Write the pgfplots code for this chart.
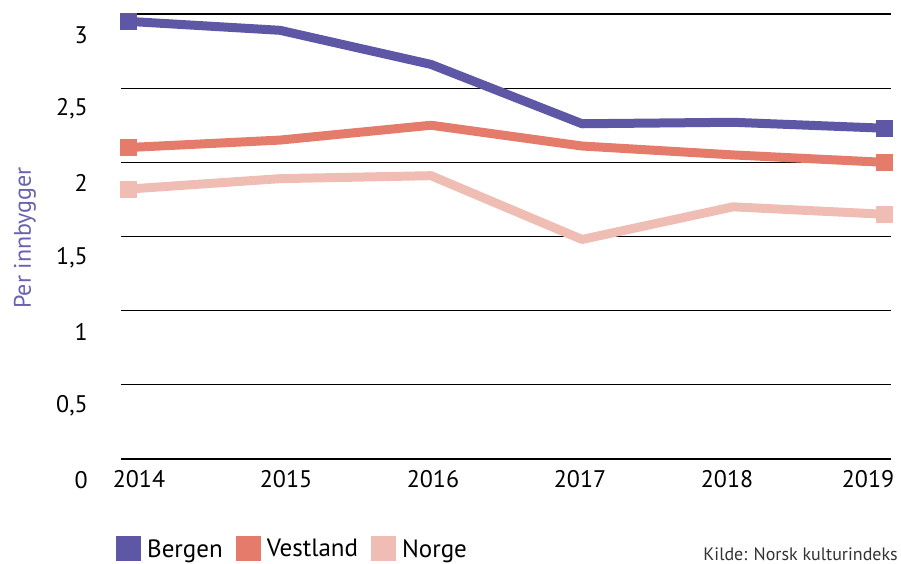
\documentclass[border=0pt]{standalone}
\usepackage{pgfplots}
\pgfplotsset{compat=1.18}
\usepackage{fontspec}
\setmainfont{PT Sans}
\definecolor{cBergen}{HTML}{5E57A5}
\definecolor{cVest}{HTML}{E47B6B}
\definecolor{cNorge}{HTML}{F0BDB4}
\definecolor{cLabel}{HTML}{6A62B0}
\begin{document}
\begin{tikzpicture}
\begin{axis}[
  scale only axis,
  width=770pt, height=445pt,
  xmin=2013.947, xmax=2019.046,
  ymin=0, ymax=3,
  clip=false,
  axis line style={draw=none},
  tick style={draw=none},
  ymajorgrids,
  major grid style={black, line width=1.1pt},
  ytick={0,0.5,1,1.5,2,2.5,3},
  yticklabels={0,{0,5},1,{1,5},2,{2,5},3},
  yticklabel style={anchor=east, inner sep=0pt, xshift=-33pt, yshift=-21pt, font=\fontsize{24}{28}\selectfont},
  xtick={2014.066,2015.04,2016.013,2016.987,2017.96,2018.894},
  xticklabels={2014,2015,2016,2017,2018,2019},
  xticklabel style={anchor=north, inner sep=0pt, yshift=-11pt, font=\fontsize{24}{28}\selectfont},
  ylabel={Per innbygger},
  ylabel style={at={(axis description cs:-0.1247,0.497)}, anchor=center, color=cLabel, font=\fontsize{24}{28}\selectfont},
  legend columns=3,
  legend style={at={(axis description cs:-0.0065,-0.2022)}, anchor=west, draw=none, fill=none, inner sep=0pt,
    nodes={inner sep=0pt},
    font=\fontsize{25}{29}\selectfont,
    /tikz/every odd column/.append style={column sep=6pt},
    /tikz/every even column/.append style={column sep=13pt}},
  legend image code/.code={\path[#1, draw=none, fill] (0pt,-12.5pt) rectangle (25pt,12.5pt);},
  every axis plot/.append style={line width=9pt, line join=round, mark=square*, mark indices={1,6}, mark size=8pt},
]
\addplot[color=cBergen, mark options={line width=0pt, fill=cBergen}] coordinates {(2014,2.95) (2015,2.89) (2016,2.66) (2017,2.26) (2018,2.27) (2019,2.23)};
\addlegendentry{Bergen}
\addplot[color=cVest, mark options={line width=0pt, fill=cVest}] coordinates {(2014,2.10) (2015,2.15) (2016,2.25) (2017,2.11) (2018,2.05) (2019,2.00)};
\addlegendentry{Vestland}
\addplot[color=cNorge, mark options={line width=0pt, fill=cNorge}] coordinates {(2014,1.82) (2015,1.89) (2016,1.91) (2017,1.48) (2018,1.70) (2019,1.65)};
\addlegendentry{Norge}
\node[anchor=base east, inner sep=0pt, font=\fontsize{18}{21}\selectfont, color=black!80] at (axis description cs:1.0091,-0.2270) {Kilde: Norsk kulturindeks};
\path (axis description cs:-0.15714,-0.23596) rectangle (axis description cs:1.01299,1.03146);
\end{axis}
\end{tikzpicture}
\end{document}
